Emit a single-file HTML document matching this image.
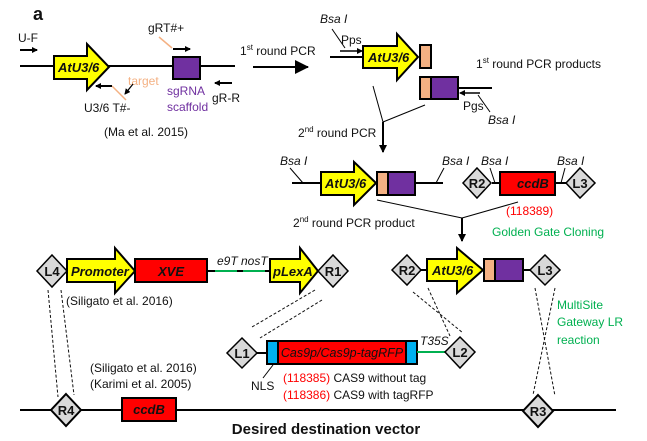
<!DOCTYPE html>
<html><head><meta charset="utf-8"><style>
html,body{margin:0;padding:0;background:#fff;}
svg{display:block;}
text{font-family:"Liberation Sans",sans-serif;font-size:12px;fill:#111;}
.i{font-style:italic;}
.b{font-weight:bold;font-size:13px;}
.ib{font-style:italic;font-weight:bold;font-size:13px;}
.d{stroke:#111;stroke-width:1;stroke-dasharray:3,2;fill:none;}
</style></head><body>
<svg width="647" height="441" viewBox="0 0 647 441" xmlns="http://www.w3.org/2000/svg">
<defs>
<marker id="ah" markerWidth="8" markerHeight="8" refX="7" refY="4" orient="auto" markerUnits="userSpaceOnUse"><path d="M0,0 L8,4 L0,8 z" fill="#000"/></marker>
<marker id="ah2" markerWidth="6" markerHeight="6" refX="5" refY="3" orient="auto" markerUnits="userSpaceOnUse"><path d="M0,0 L6,3 L0,6 z" fill="#000"/></marker>
<marker id="ah3" markerWidth="14" markerHeight="14" refX="13" refY="7" orient="auto" markerUnits="userSpaceOnUse"><path d="M0,0 L14,7 L0,14 z" fill="#000"/></marker>
</defs>

<text x="33" y="20" style="font-size:18px;font-weight:bold">a</text>
<text x="18" y="42">U-F</text>
<line x1="20" y1="50" x2="37" y2="50" stroke="#000" stroke-width="2" marker-end="url(#ah2)"/>
<line x1="20" y1="66" x2="235" y2="66" stroke="#000" stroke-width="2"/>
<path d="M54,56 H87 V44 L109,67 L87,90 V79 H54 Z" fill="#ffff00" stroke="#000" stroke-width="2"/>
<text x="58" y="72" class="ib">AtU3/6</text>
<rect x="173" y="57" width="27" height="22" fill="#7030a0" stroke="#000" stroke-width="2"/>
<text x="148" y="32">gRT#+</text>
<line x1="159" y1="37" x2="172" y2="48" stroke="#f4b183" stroke-width="1.5"/>
<line x1="173" y1="49" x2="190" y2="49" stroke="#000" stroke-width="2" marker-end="url(#ah2)"/>
<text x="128" y="85" style="fill:#f4b183">target</text>
<line x1="112" y1="86" x2="126" y2="100" stroke="#f4b183" stroke-width="1.5"/>
<line x1="133" y1="84" x2="125" y2="94" stroke="#000" stroke-width="1.2" marker-end="url(#ah2)"/>
<line x1="112" y1="86" x2="96" y2="86" stroke="#000" stroke-width="2" marker-end="url(#ah2)"/>
<text x="84" y="112">U3/6 T#-</text>
<text x="167" y="95" style="fill:#7030a0">sgRNA</text>
<text x="167" y="111" style="fill:#7030a0">scaffold</text>
<line x1="232" y1="83" x2="215" y2="83" stroke="#000" stroke-width="2" marker-end="url(#ah2)"/>
<text x="212" y="102">gR-R</text>
<text x="104" y="136">(Ma et al. 2015)</text>

<text x="240" y="55">1<tspan style="font-size:8px" dy="-5">st</tspan><tspan dy="5"> round PCR</tspan></text>
<line x1="253" y1="67" x2="308" y2="67" stroke="#000" stroke-width="2" marker-end="url(#ah3)"/>

<text x="320" y="23" class="i">Bsa I</text>
<line x1="332" y1="29" x2="345" y2="48" stroke="#000" stroke-width="1"/>
<text x="341" y="44">Pps</text>
<line x1="340" y1="51" x2="362" y2="51" stroke="#000" stroke-width="1.5" marker-end="url(#ah2)"/>
<line x1="330" y1="57" x2="363" y2="57" stroke="#000" stroke-width="2"/>
<path d="M363,46 H397 V34 L418,57 L397,80 V68 H363 Z" fill="#ffff00" stroke="#000" stroke-width="2"/>
<text x="368" y="62" class="ib">AtU3/6</text>
<rect x="420" y="45" width="11" height="23" fill="#f4b183" stroke="#000" stroke-width="2"/>
<rect x="420" y="77" width="11" height="22" fill="#f4b183" stroke="#000" stroke-width="2"/>
<rect x="431" y="77" width="27" height="22" fill="#7030a0" stroke="#000" stroke-width="2"/>
<line x1="458" y1="88" x2="492" y2="88" stroke="#000" stroke-width="2"/>
<line x1="480" y1="93" x2="460" y2="93" stroke="#000" stroke-width="1.5" marker-end="url(#ah2)"/>
<text x="463" y="110">Pgs</text>
<line x1="478" y1="95" x2="490" y2="112" stroke="#000" stroke-width="1"/>
<text x="488" y="124" class="i">Bsa I</text>
<text x="476" y="68">1<tspan style="font-size:8px" dy="-5">st</tspan><tspan dy="5"> round PCR products</tspan></text>

<line x1="373" y1="86" x2="383" y2="122" stroke="#000" stroke-width="1"/>
<line x1="425" y1="105" x2="383" y2="122" stroke="#000" stroke-width="1"/>
<line x1="383" y1="122" x2="383" y2="152" stroke="#000" stroke-width="2" marker-end="url(#ah)"/>
<text x="298" y="137">2<tspan style="font-size:8px" dy="-5">nd</tspan><tspan dy="5">  round PCR</tspan></text>

<line x1="292" y1="183" x2="443" y2="183" stroke="#000" stroke-width="2"/>
<text x="280" y="165" class="i">Bsa I</text>
<line x1="290" y1="168" x2="303" y2="183" stroke="#000" stroke-width="1"/>
<text x="442" y="165" class="i">Bsa I</text>
<line x1="444" y1="168" x2="436" y2="183" stroke="#000" stroke-width="1"/>
<path d="M321,172 H354 V162 L376,183 L354,205 V195 H321 Z" fill="#ffff00" stroke="#000" stroke-width="2"/>
<text x="325" y="188" class="ib">AtU3/6</text>
<rect x="377" y="172" width="11" height="23" fill="#f4b183" stroke="#000" stroke-width="2"/>
<rect x="388" y="172" width="27" height="23" fill="#7030a0" stroke="#000" stroke-width="2"/>
<text x="293" y="227">2<tspan style="font-size:8px" dy="-5">nd</tspan><tspan dy="5"> round PCR product</tspan></text>

<line x1="492" y1="183" x2="568" y2="183" stroke="#000" stroke-width="2"/>
<path d="M477,168 L491,183 L477,198 L463,183 Z" fill="#d9d9d9" stroke="#000" stroke-width="1.5"/>
<text x="477" y="188" class="b" text-anchor="middle">R2</text>
<rect x="500" y="172" width="55" height="23" fill="#ff0000" stroke="#000" stroke-width="2"/>
<text x="517" y="188" class="ib">ccdB</text>
<path d="M580,168 L595,183 L580,198 L566,183 Z" fill="#d9d9d9" stroke="#000" stroke-width="1.5"/>
<text x="580" y="188" class="b" text-anchor="middle">L3</text>
<text x="481" y="165" class="i">Bsa I</text>
<line x1="490" y1="168" x2="495" y2="183" stroke="#000" stroke-width="1"/>
<text x="557" y="165" class="i">Bsa I</text>
<line x1="565" y1="168" x2="561" y2="183" stroke="#000" stroke-width="1"/>

<line x1="377" y1="200" x2="462" y2="218" stroke="#000" stroke-width="1"/>
<line x1="518" y1="202" x2="462" y2="218" stroke="#000" stroke-width="1"/>
<line x1="462" y1="218" x2="462" y2="241" stroke="#000" stroke-width="2" marker-end="url(#ah)"/>
<text x="506" y="215" style="fill:#ff0000">(118389)</text>
<text x="492" y="236" style="fill:#00b050">Golden Gate Cloning</text>

<line x1="207" y1="271" x2="272" y2="271" stroke="#000" stroke-width="2"/>
<line x1="215" y1="271" x2="237" y2="271" stroke="#00b050" stroke-width="2"/>
<line x1="243" y1="271" x2="265" y2="271" stroke="#00b050" stroke-width="2"/>
<text x="217" y="265" class="i">e9T nosT</text>
<path d="M52,255 L67,271 L52,287 L37,271 Z" fill="#d9d9d9" stroke="#000" stroke-width="1.5"/>
<text x="52" y="276" class="b" text-anchor="middle">L4</text>
<path d="M67,259 H115 V248 L135,271 L115,293 V282 H67 Z" fill="#ffff00" stroke="#000" stroke-width="2"/>
<text x="71" y="276" class="ib">Promoter</text>
<rect x="135" y="259" width="72" height="23" fill="#ff0000" stroke="#000" stroke-width="2"/>
<text x="171" y="276" class="ib" text-anchor="middle">XVE</text>
<path d="M270,259 H300 V248 L318,271 L300,293 V282 H270 Z" fill="#ffff00" stroke="#000" stroke-width="2"/>
<text x="273" y="276" class="ib">pLexA</text>
<path d="M333,255 L348,271 L333,287 L318,271 Z" fill="#d9d9d9" stroke="#000" stroke-width="1.5"/>
<text x="333" y="276" class="b" text-anchor="middle">R1</text>
<text x="66" y="305">(Siligato et al. 2016)</text>

<line x1="420" y1="270" x2="535" y2="270" stroke="#000" stroke-width="2"/>
<path d="M407,255 L421,270 L407,285 L392,270 Z" fill="#d9d9d9" stroke="#000" stroke-width="1.5"/>
<text x="407" y="275" class="b" text-anchor="middle">R2</text>
<path d="M427,259 H457 V248 L483,270 L457,293 V281 H427 Z" fill="#ffff00" stroke="#000" stroke-width="2"/>
<text x="432" y="275" class="ib">AtU3/6</text>
<rect x="484" y="259" width="11" height="22" fill="#f4b183" stroke="#000" stroke-width="2"/>
<rect x="495" y="259" width="28" height="22" fill="#7030a0" stroke="#000" stroke-width="2"/>
<path d="M545,255 L560,270 L545,285 L530,270 Z" fill="#d9d9d9" stroke="#000" stroke-width="1.5"/>
<text x="545" y="275" class="b" text-anchor="middle">L3</text>
<text x="557" y="309" style="fill:#00b050">MultiSite</text>
<text x="557" y="326" style="fill:#00b050">Gateway LR</text>
<text x="557" y="344" style="fill:#00b050">reaction</text>

<line x1="255" y1="353" x2="267" y2="353" stroke="#000" stroke-width="2"/>
<path d="M242,338 L257,353 L242,368 L227,353 Z" fill="#d9d9d9" stroke="#000" stroke-width="1.5"/>
<text x="242" y="358" class="b" text-anchor="middle">L1</text>
<rect x="267" y="341" width="150" height="23" fill="#ff0000" stroke="#000" stroke-width="2"/>
<rect x="267" y="341" width="11" height="23" fill="#00b0f0" stroke="#000" stroke-width="2"/>
<rect x="406" y="341" width="11" height="23" fill="#00b0f0" stroke="#000" stroke-width="2"/>
<text x="342" y="357" class="i" text-anchor="middle" style="font-size:12.5px">Cas9p/Cas9p-tagRFP</text>
<line x1="417" y1="352" x2="446" y2="352" stroke="#00b050" stroke-width="2"/>
<text x="420" y="345" class="i">T35S</text>
<path d="M460,337 L475,352 L460,368 L445,352 Z" fill="#d9d9d9" stroke="#000" stroke-width="1.5"/>
<text x="460" y="357" class="b" text-anchor="middle">L2</text>
<line x1="273" y1="365" x2="263" y2="378" stroke="#000" stroke-width="1"/>
<text x="251" y="390">NLS</text>
<text x="283" y="382"><tspan style="fill:#ff0000">(118385)</tspan> CAS9 without tag</text>
<text x="283" y="399"><tspan style="fill:#ff0000">(118386)</tspan> CAS9 with tagRFP</text>
<text x="90" y="372">(Siligato et al. 2016)</text>
<text x="90" y="388">(Karimi et al. 2005)</text>

<line class="d" x1="48" y1="290" x2="58" y2="397"/>
<line class="d" x1="61" y1="290" x2="74" y2="395"/>
<line class="d" x1="315" y1="290" x2="252" y2="327"/>
<line class="d" x1="322" y1="300" x2="260" y2="338"/>
<line class="d" x1="413" y1="292" x2="463" y2="333"/>
<line class="d" x1="428" y1="288" x2="450" y2="336"/>
<line class="d" x1="535" y1="288" x2="555" y2="396"/>
<line class="d" x1="555" y1="288" x2="533" y2="395"/>

<line x1="20" y1="410" x2="616" y2="410" stroke="#000" stroke-width="2"/>
<path d="M66,394 L81,410 L66,426 L51,410 Z" fill="#d9d9d9" stroke="#000" stroke-width="2"/>
<text x="66" y="415" class="b" text-anchor="middle">R4</text>
<rect x="122" y="398" width="54" height="23" fill="#ff0000" stroke="#000" stroke-width="2"/>
<text x="149" y="414" class="ib" text-anchor="middle">ccdB</text>
<path d="M538,395 L553,411 L538,427 L523,411 Z" fill="#d9d9d9" stroke="#000" stroke-width="2"/>
<text x="538" y="416" class="b" text-anchor="middle">R3</text>
<text x="326" y="434" text-anchor="middle" style="font-size:15px;font-weight:bold">Desired destination vector</text>
</svg>
</body></html>
